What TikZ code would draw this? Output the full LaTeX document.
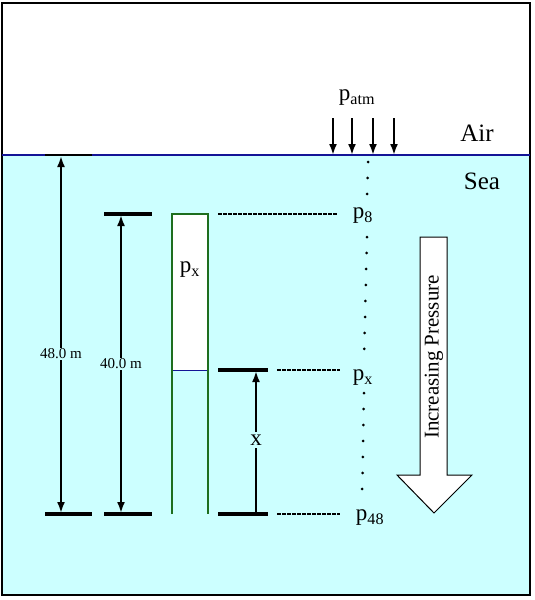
\documentclass[tikz,border=0pt]{standalone}
\usepackage{fontspec}
\setmainfont{Liberation Serif}
\usetikzlibrary{arrows.meta}
\definecolor{seacol}{RGB}{204,255,255}
\definecolor{surfcol}{RGB}{20,20,150}
\definecolor{tubecol}{RGB}{30,110,30}
\tikzset{
  tick/.style = {black, line width=3.2pt},
  dim/.style = {black, line width=2.6pt, -{Latex[length=11pt,width=8pt]}},
  lev/.style = {black, line width=1.6pt, dash pattern=on 3.5pt off 1.5pt},
  lbl/.style = {font=\fontsize{23}{23}\selectfont, inner sep=0pt},
  dimlbl/.style = {font=\fontsize{15}{15}\selectfont, fill=seacol, inner sep=1pt},
  dots/.style = {black, line width=3pt, line cap=round, dash pattern=on 0pt off 16pt}
}
\begin{document}
\begin{tikzpicture}[x=1pt,y=-1pt]
\useasboundingbox (0,0) rectangle (535,600);

% sea and frame
\fill[white] (0,0) rectangle (535,600);
\fill[seacol] (2,155) rectangle (530,595);
\draw[black, line width=1.8pt] (2,3) rectangle (530,595);
\draw[surfcol, line width=2pt] (2,155)--(530,155);

\node[font=\fontsize{25}{25}\selectfont] (air) at (477,133) {Air};
\node[font=\fontsize{25}{25}\selectfont] (sea) at (482,181) {Sea};

% atmosphere
\node[lbl] (patm) at (357,98) {p\textsubscript{atm}};
\foreach \xa in {333,352,373,394}
  \draw[dim] (\xa,118)--(\xa,155);

% depth marks
\draw[black, line width=2pt] (45,155)--(92,155);
\draw[tick] (45,514)--(92,514);
\draw[tick] (104,214)--(152,214);
\draw[tick] (104,514)--(152,514);
\draw[tick] (218,370)--(268,370);
\draw[tick] (218,514)--(268,514);

\node[dimlbl] (d48) at (61,354) {48.0 m};
\node[dimlbl] (d40) at (121,364) {40.0 m};
\node[lbl, fill=seacol, inner sep=3pt] (dx) at (256,440) {x};

\draw[dim] (d48)--(61,156);
\draw[dim] (d48)--(61,513);
\draw[dim] (d40)--(121,215);
\draw[dim] (d40)--(121,513);
\draw[dim] (dx)--(256,371);
\draw[black, line width=2.6pt] (dx)--(256,514);

% tube
\fill[white] (172,214) rectangle (208,370);
\draw[surfcol, line width=0.8pt] (172,370)--(208,370);
\draw[tubecol, line width=2.5pt] (172,514)--(172,214)--(208,214)--(208,514);
\node[lbl] (ptube) at (190,270) {p\textsubscript{x}};

% pressure levels
\node[lbl] (p8) at (363,216) {p\textsubscript{8}};
\node[lbl] (px) at (363,378) {p\textsubscript{x}};
\node[lbl] (p48) at (370,518) {p\textsubscript{48}};
\draw[lev] (218,214)--(338,214);
\draw[lev] (277,370)--(340,370);
\draw[lev] (277,514)--(340,514);
\draw[dots] (368,162)--(367,200);
\draw[dots] (367,237)--(364,360);
\draw[dots] (364,393)--(362,500);

% increasing pressure arrow
\draw[black, fill=white, line width=1pt] (420,237)--(447,237)--(447,475)--(472,475)--(434,513)--(397,475)--(420,475)--cycle;
\node[font=\fontsize{21}{21}\selectfont, inner sep=0pt, rotate=90] (inc) at (434,357) {Increasing Pressure};

\end{tikzpicture}
\end{document}
